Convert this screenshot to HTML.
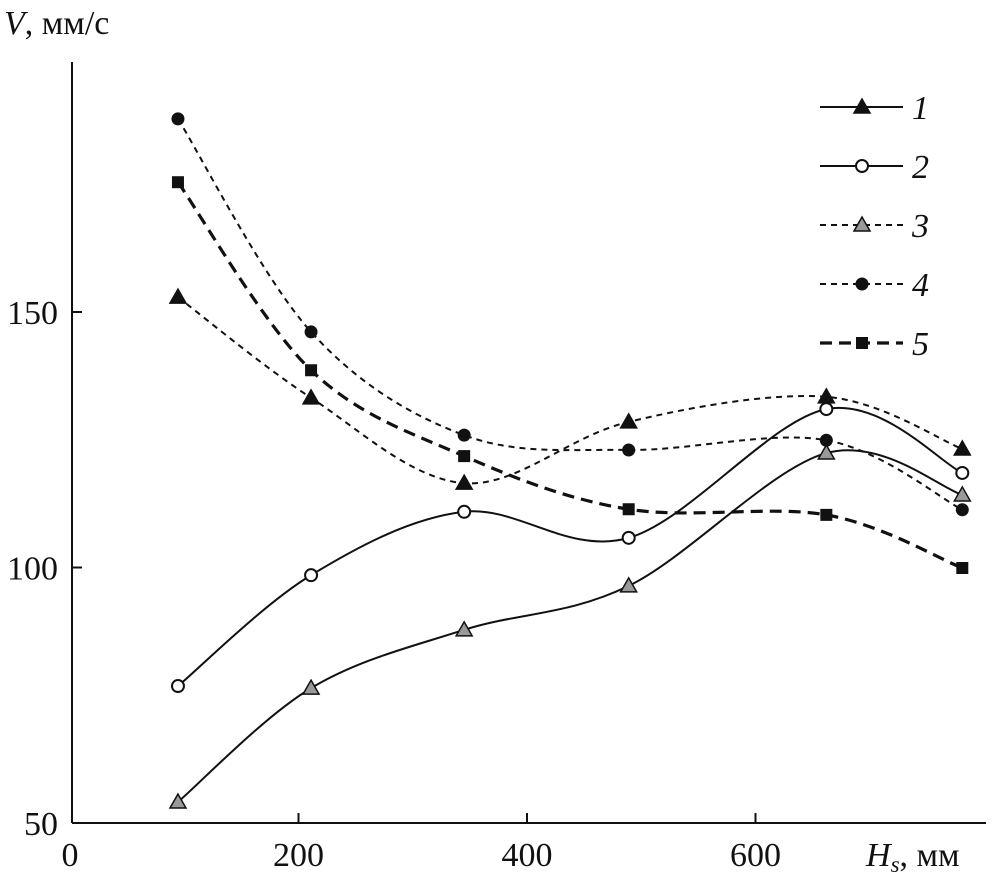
<!DOCTYPE html>
<html><head><meta charset="utf-8"><style>
body{margin:0;background:#fff}
svg text{font-family:"Liberation Serif",serif;fill:#111}
</style></head><body>
<svg id="c" width="996" height="887" viewBox="0 0 996 887">
<g id="axes"></g><g id="plot"></g><g id="legend"></g>
</svg>
<script>
const xs=[94.5,211,345,489,662,781];
const s1=[152.9,133.2,116.5,128.5,133.4,123.2];
const s2=[76.8,98.5,110.9,105.8,131.0,118.5];
const s3=[54.1,76.4,87.8,96.4,122.4,114.2];
const s4=[187.8,146.1,125.9,123.0,124.9,111.3];
const s5=[175.4,138.6,121.8,111.4,110.3,99.9];
const xTicks=[0,200,400,600];
const yTicks=[50,100,150];
const legendLabels=["1","2","3","4","5"];

const NS="http://www.w3.org/2000/svg";
const X=v=>70+v*1.1425;
const Y=v=>823-(v-50)*5.11;
function mk(tag,attrs,parent){const e=document.createElementNS(NS,tag);for(const k in attrs)e.setAttribute(k,attrs[k]);parent.appendChild(e);return e;}
const ax=document.getElementById('axes'),pl=document.getElementById('plot'),lg=document.getElementById('legend');
let e;
e=mk('line',{x1:72,y1:62,x2:72,y2:823,stroke:'#111','stroke-width':2},ax);


e=mk('line',{x1:72,y1:823,x2:986,y2:823,stroke:'#111','stroke-width':2},ax);


xTicks.forEach(t=>{
 if(t>0){mk('line',{x1:X(t),y1:823,x2:X(t),y2:813,stroke:'#111','stroke-width':2},ax);}
 e=mk('text',{x:X(t),y:866,'font-size':34,'text-anchor':'middle'},ax);e.textContent=t;
 
 
});
yTicks.forEach(t=>{
 mk('line',{x1:72,y1:Y(t),x2:82,y2:Y(t),stroke:'#111','stroke-width':2},ax);
 e=mk('text',{x:58,y:Y(t)+12,'font-size':34,'text-anchor':'end'},ax);e.textContent=t;
 
 
});
e=mk('text',{x:4,y:34,'font-size':34},ax);e.innerHTML='<tspan font-style="italic">V</tspan>, мм/с';


e=mk('text',{x:866,y:866,'font-size':34},ax);e.innerHTML='<tspan font-style="italic">H</tspan><tspan font-style="italic" font-size="23" dy="6">s</tspan><tspan dy="-6">, мм</tspan>';



function path(vals){
 const p=xs.map((x,i)=>[X(x),Y(vals[i])]);
 let d=`M${p[0][0]},${p[0][1]}`;
 for(let i=0;i<p.length-1;i++){
  const p0=p[Math.max(0,i-1)],p1=p[i],p2=p[i+1],p3=p[Math.min(p.length-1,i+2)];
  const c1=[p1[0]+(p2[0]-p0[0])/6,p1[1]+(p2[1]-p0[1])/6];
  const c2=[p2[0]-(p3[0]-p1[0])/6,p2[1]-(p3[1]-p1[1])/6];
  d+=`C${c1[0]},${c1[1]} ${c2[0]},${c2[1]} ${p2[0]},${p2[1]}`;
 }
 return d;
}
function marker(type,cx,cy,g){
 if(type==='tri'||type==='gtri'){
  return mk('polygon',{points:`${cx},${cy-8} ${cx-8},${cy+6} ${cx+8},${cy+6}`,fill:type==='tri'?'#111':'#999',stroke:'#111','stroke-width':1.5},g);
 }
 if(type==='oc')return mk('circle',{cx,cy,r:6,fill:'#fff',stroke:'#111','stroke-width':2},g);
 if(type==='fc')return mk('circle',{cx,cy,r:6.5,fill:'#111'},g);
 return mk('rect',{x:cx-6,y:cy-6,width:12,height:12,fill:'#111'},g);
}
const series=[
 {v:s1,m:'tri',dash:'6,5',w:2,name:'series-1'},
 {v:s2,m:'oc',dash:'',w:2,name:'series-2'},
 {v:s3,m:'gtri',dash:'',w:2,name:'series-3'},
 {v:s4,m:'fc',dash:'6,5',w:2,name:'series-4'},
 {v:s5,m:'sq',dash:'12,7',w:3.2,name:'series-5'}
];
const legDash=['', '', '6,5','6,5','12,7'];
const legMark=['tri','oc','gtri','fc','sq'];
series.forEach((s,k)=>{
 const g=mk('g',{},pl);
 
 
 const l=mk('path',{d:path(s.v),fill:'none',stroke:'#111','stroke-width':s.w,'stroke-dasharray':s.dash},g);
 
 
 xs.forEach((x,i)=>{const m=marker(s.m,X(x),Y(s.v[i]),g);
  
  });
});
legendLabels.forEach((lab,i)=>{
 const y=107+i*59;
 const g=mk('g',{},lg);
 
 
 mk('line',{x1:820,y1:y,x2:903,y2:y,stroke:'#111','stroke-width':i===4?3.2:2,'stroke-dasharray':legDash[i]},g);
 marker(legMark[i],862,y,g);
 const t=mk('text',{x:912,y:y+12,'font-size':34,'font-style':'italic'},g);t.textContent=lab;
});
</script>
</body></html>
